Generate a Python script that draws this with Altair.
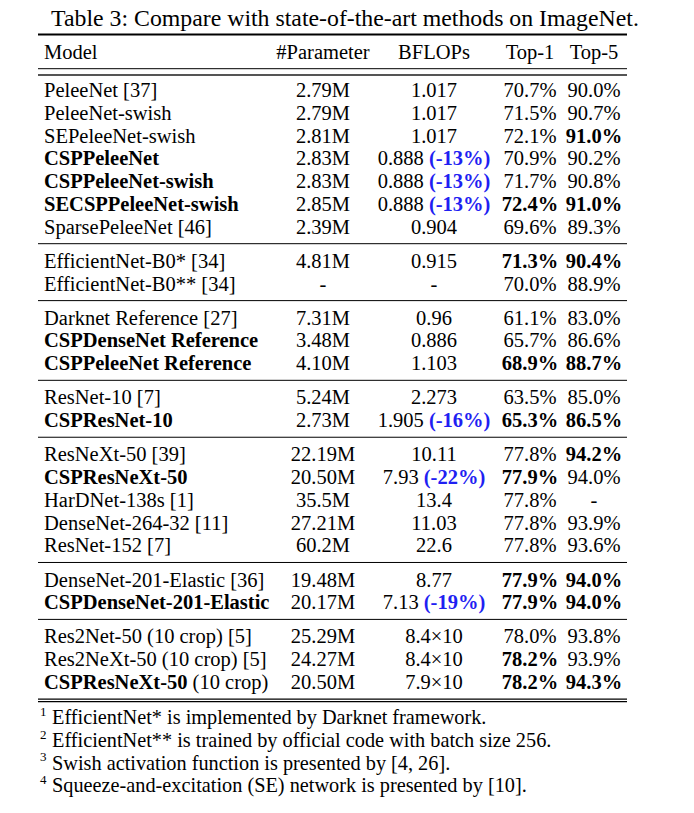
import altair as alt
import pandas as pd

# ---------------- data ----------------
title_text = "Table 3: Compare with state-of-the-art methods on ImageNet."
headers = ["Model", "#Parameter", "BFLOPs", "Top-1", "Top-5"]
group_sizes = [7, 2, 3, 2, 5, 2, 3]

model_bold_part = ["", "", "", "CSPPeleeNet", "CSPPeleeNet-swish", "SECSPPeleeNet-swish", "",
                   "", "",
                   "", "CSPDenseNet Reference", "CSPPeleeNet Reference",
                   "", "CSPResNet-10",
                   "", "CSPResNeXt-50", "", "", "",
                   "", "CSPDenseNet-201-Elastic",
                   "", "", "CSPResNeXt-50"]
model_plain_part = ["PeleeNet [37]", "PeleeNet-swish", "SEPeleeNet-swish", "", "", "", "SparsePeleeNet [46]",
                    "EfficientNet-B0* [34]", "EfficientNet-B0** [34]",
                    "Darknet Reference [27]", "", "",
                    "ResNet-10 [7]", "",
                    "ResNeXt-50 [39]", "", "HarDNet-138s [1]", "DenseNet-264-32 [11]", "ResNet-152 [7]",
                    "DenseNet-201-Elastic [36]", "",
                    "Res2Net-50 (10 crop) [5]", "Res2NeXt-50 (10 crop) [5]", "(10 crop)"]
params = ["2.79M", "2.79M", "2.81M", "2.83M", "2.83M", "2.85M", "2.39M",
          "4.81M", "-",
          "7.31M", "3.48M", "4.10M",
          "5.24M", "2.73M",
          "22.19M", "20.50M", "35.5M", "27.21M", "60.2M",
          "19.48M", "20.17M",
          "25.29M", "24.27M", "20.50M"]
bflops = ["1.017", "1.017", "1.017", "0.888", "0.888", "0.888", "0.904",
          "0.915", "-",
          "0.96", "0.886", "1.103",
          "2.273", "1.905",
          "10.11", "7.93", "13.4", "11.03", "22.6",
          "8.77", "7.13",
          "8.4×10", "8.4×10", "7.9×10"]
bflops_delta = ["", "", "", "(-13%)", "(-13%)", "(-13%)", "",
                "", "",
                "", "", "",
                "", "(-16%)",
                "", "(-22%)", "", "", "",
                "", "(-19%)",
                "", "", ""]
top1 = ["70.7%", "71.5%", "72.1%", "70.9%", "71.7%", "72.4%", "69.6%",
        "71.3%", "70.0%",
        "61.1%", "65.7%", "68.9%",
        "63.5%", "65.3%",
        "77.8%", "77.9%", "77.8%", "77.8%", "77.8%",
        "77.9%", "77.9%",
        "78.0%", "78.2%", "78.2%"]
top1_bold = [0, 0, 0, 0, 0, 1, 0,
             1, 0,
             0, 0, 1,
             0, 1,
             0, 1, 0, 0, 0,
             1, 1,
             0, 1, 1]
top5 = ["90.0%", "90.7%", "91.0%", "90.2%", "90.8%", "91.0%", "89.3%",
        "90.4%", "88.9%",
        "83.0%", "86.6%", "88.7%",
        "85.0%", "86.5%",
        "94.2%", "94.0%", "-", "93.9%", "93.6%",
        "94.0%", "94.0%",
        "93.8%", "93.9%", "94.3%"]
top5_bold = [0, 0, 1, 0, 0, 1, 0,
             1, 0,
             0, 0, 1,
             0, 1,
             1, 0, 0, 0, 0,
             1, 1,
             0, 0, 1]
footnote_marks = ["1", "2", "3", "4"]
footnotes = ["EfficientNet* is implemented by Darknet framework.",
             "EfficientNet** is trained by official code with batch size 256.",
             "Swish activation function is presented by [4, 26].",
             "Squeeze-and-excitation (SE) network is presented by [10]."]

# ---------------- layout ----------------
FONT = "Liberation Serif"
FS = 20.5
FS_TITLE = 23.8
FS_NOTE = 20.3
FS_SUP = 13
W, H = 678, 797
PITCH = 22.77
FIRST_ROW_PX = 90
X_MODEL, X_PARAM, X_BFLOP, X_TOP1, X_TOP5 = 44, 323, 434, 530, 594
X_TITLE = 345
X_SUP, X_NOTE = 40, 52
RULE_X0, RULE_X1 = 38, 627
BLACK, BLUE, GREY = "#000000", "#1f1ff2", "#555555"


def slot_of_px(px):
    return (px - FIRST_ROW_PX) / PITCH


REG = {**{d: 500 for d in "0123456789"}, ".": 250, " ": 250, "-": 333, "×": 564,
       "(": 333, ")": 333, "%": 833}
BOLD = {**{d: 500 for d in "0123456789"}, "(": 333, ")": 333, "-": 333, "%": 1000,
        "C": 722, "S": 556, "P": 611, "R": 722, "e": 444, "s": 389, "N": 722,
        "X": 722, "t": 333, " ": 250}


def tw(s, table, size):
    return sum(table.get(c, 500) for c in s) * size / 1000.0


# row slots
row_slot, sep_slots = [], []
s = 0.0
for gi, n in enumerate(group_sizes):
    for k in range(n):
        row_slot.append(s)
        s += 1
    s -= 1
    if gi < len(group_sizes) - 1:
        sep_slots.append(s + 0.75)
        s += 1.5
last_slot = s

texts = []


def add(x, y, t, weight="normal", align="center", size=FS, color=BLACK):
    if t:
        texts.append(dict(x=x, y=y, text=t, color=color, weight=weight, align=align, size=size))


add(X_TITLE, slot_of_px(18), title_text, size=FS_TITLE)
hy = slot_of_px(52)
add(X_MODEL, hy, headers[0], align="left")
for xh, h in zip([X_PARAM, X_BFLOP, X_TOP1, X_TOP5], headers[1:]):
    add(xh, hy, h)

for i, y in enumerate(row_slot):
    bp, pp = model_bold_part[i], model_plain_part[i]
    if bp:
        add(X_MODEL, y, bp, weight="bold", align="left")
        if pp:
            add(X_MODEL + tw(bp, BOLD, FS) + tw(" ", REG, FS), y, pp, align="left")
    else:
        add(X_MODEL, y, pp, align="left")
    add(X_PARAM, y, params[i])
    if bflops_delta[i]:
        wn = tw(bflops[i], REG, FS)
        wsp = tw(" ", REG, FS)
        wd = tw(bflops_delta[i], BOLD, FS)
        x0 = X_BFLOP - (wn + wsp + wd) / 2
        add(x0, y, bflops[i], align="left")
        add(x0 + wn + wsp, y, bflops_delta[i], weight="bold", align="left", color=BLUE)
    else:
        add(X_BFLOP, y, bflops[i])
    add(X_TOP1, y, top1[i], weight="bold" if top1_bold[i] else "normal")
    add(X_TOP5, y, top5[i], weight="bold" if top5_bold[i] else "normal")

note0 = last_slot + slot_of_px(717) - slot_of_px(682)
for j, (m, t) in enumerate(zip(footnote_marks, footnotes)):
    add(X_SUP, note0 + j - 0.27, m, align="left", size=FS_SUP)
    add(X_NOTE, note0 + j, t, align="left", size=FS_NOTE)

tdf = pd.DataFrame(texts)

rules = [
    dict(y=slot_of_px(34.5), w=2.0, c=BLACK),
    dict(y=slot_of_px(68.7), w=1.0, c=BLACK),
    dict(y=slot_of_px(75.0), w=2.0, c=GREY),
]
rules += [dict(y=v, w=1.0, c=BLACK) for v in sep_slots]
rules += [dict(y=last_slot + 0.75, w=1.2, c=BLACK), dict(y=last_slot + 0.86, w=1.2, c=BLACK)]
rdf = pd.DataFrame(rules)
rdf["x"] = RULE_X0
rdf["x2"] = RULE_X1

xs = alt.Scale(domain=[8, 8 + W], nice=False, zero=False)
ys = alt.Scale(domain=[slot_of_px(8), slot_of_px(8 + H)], nice=False, zero=False, reverse=True)

rule_layer = alt.Chart(rdf).mark_rule().encode(
    x=alt.X("x:Q", scale=xs, axis=None),
    x2="x2:Q",
    y=alt.Y("y:Q", scale=ys, axis=None),
    strokeWidth=alt.StrokeWidth("w:Q", scale=None, legend=None),
    color=alt.Color("c:N", scale=None, legend=None),
)

layers = [rule_layer]
for (weight, align, size), sub in tdf.groupby(["weight", "align", "size"]):
    layers.append(
        alt.Chart(sub).mark_text(font=FONT, fontSize=size, fontWeight=weight,
                                 align=align, baseline="middle", dy=1).encode(
            x=alt.X("x:Q", scale=xs, axis=None),
            y=alt.Y("y:Q", scale=ys, axis=None),
            text="text:N",
            color=alt.Color("color:N", scale=None, legend=None),
        )
    )

chart = alt.layer(*layers).properties(
    width=W, height=H, autosize=alt.AutoSizeParams(type="none"), padding=0,
    background="white",
).configure_view(strokeWidth=0)

chart.save("out.html", embed_options={"renderer": "svg", "actions": False})
